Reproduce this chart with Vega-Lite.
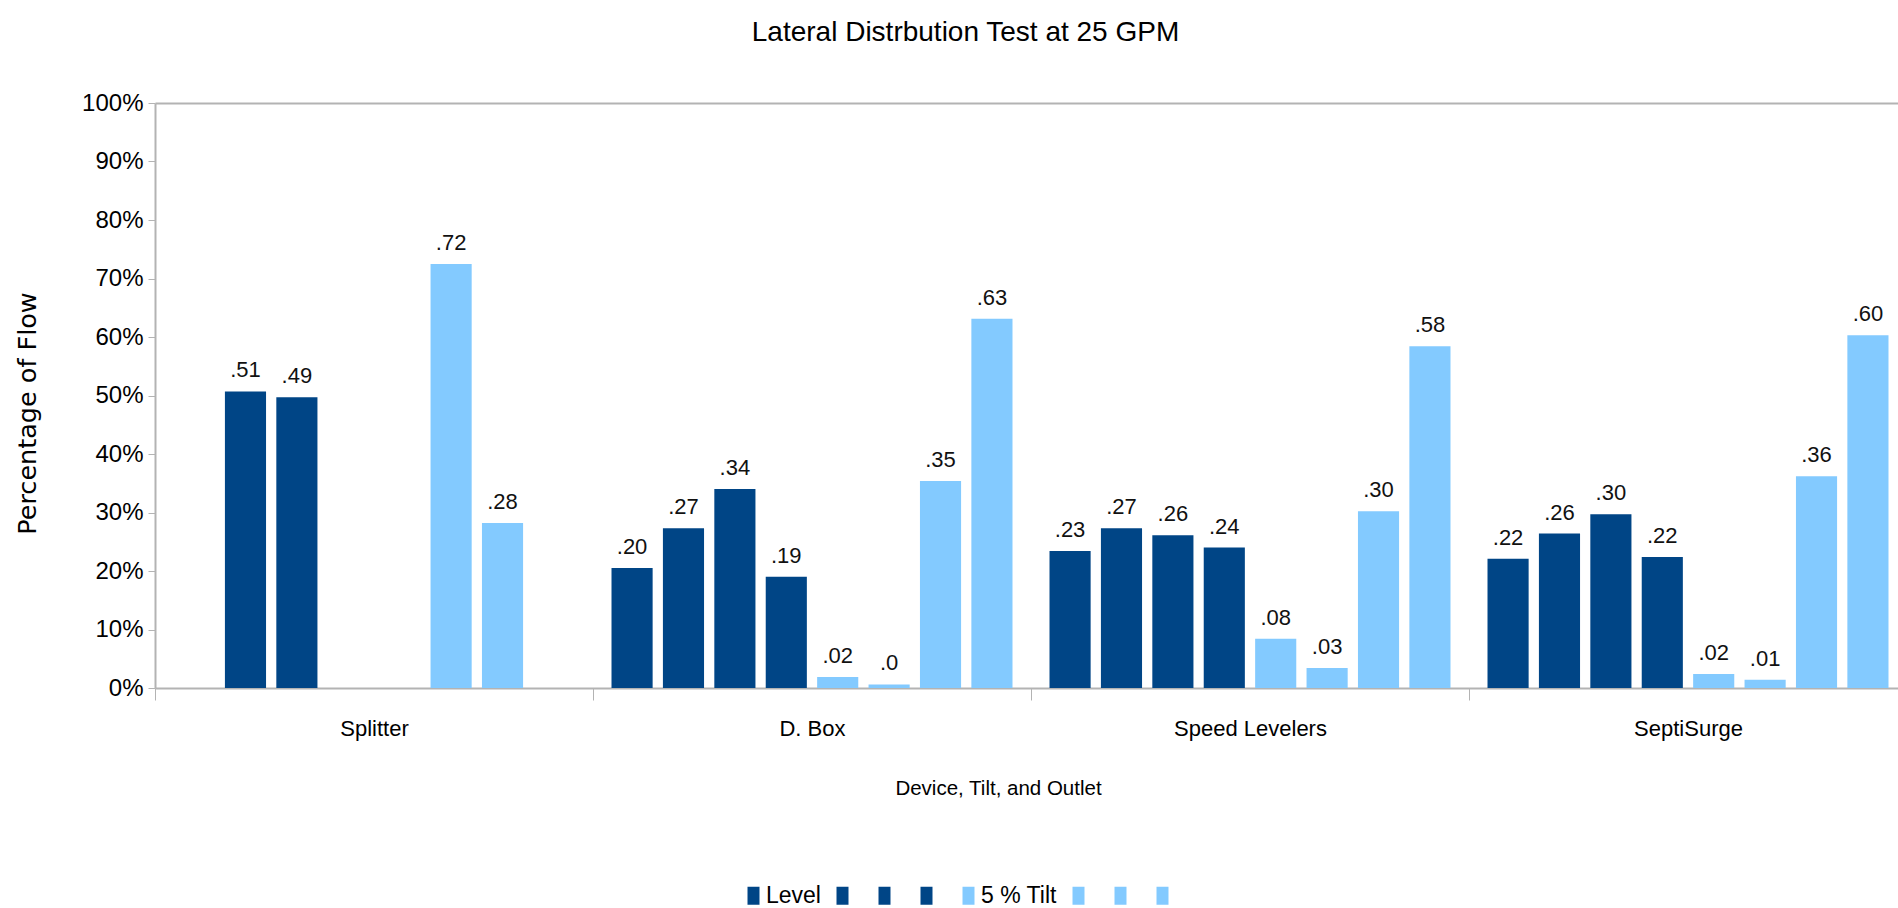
{
  "$schema": "https://vega.github.io/schema/vega-lite/v6.json",
  "width": 1743,
  "height": 585,
  "autosize": {"type": "none"},
  "padding": {"left": 155, "top": 103, "right": 0, "bottom": 220},
  "title": {
    "text": "Lateral Distrbution Test at 25 GPM",
    "font": "Liberation Sans",
    "fontSize": 28,
    "fontWeight": "normal",
    "color": "#000000",
    "anchor": "middle",
    "dx": -61,
    "offset": 44
  },
  "data": {
    "values": [
      {"device": "Splitter", "series": "L2", "value": 0.507, "label": ".51"},
      {"device": "Splitter", "series": "L3", "value": 0.497, "label": ".49"},
      {"device": "Splitter", "series": "T2", "value": 0.725, "label": ".72"},
      {"device": "Splitter", "series": "T3", "value": 0.282, "label": ".28"},
      {"device": "D. Box", "series": "L1", "value": 0.205, "label": ".20"},
      {"device": "D. Box", "series": "L2", "value": 0.273, "label": ".27"},
      {"device": "D. Box", "series": "L3", "value": 0.34, "label": ".34"},
      {"device": "D. Box", "series": "L4", "value": 0.19, "label": ".19"},
      {"device": "D. Box", "series": "T1", "value": 0.019, "label": ".02"},
      {"device": "D. Box", "series": "T2", "value": 0.006, "label": ".0"},
      {"device": "D. Box", "series": "T3", "value": 0.354, "label": ".35"},
      {"device": "D. Box", "series": "T4", "value": 0.631, "label": ".63"},
      {"device": "Speed Levelers", "series": "L1", "value": 0.234, "label": ".23"},
      {"device": "Speed Levelers", "series": "L2", "value": 0.273, "label": ".27"},
      {"device": "Speed Levelers", "series": "L3", "value": 0.261, "label": ".26"},
      {"device": "Speed Levelers", "series": "L4", "value": 0.24, "label": ".24"},
      {"device": "Speed Levelers", "series": "T1", "value": 0.084, "label": ".08"},
      {"device": "Speed Levelers", "series": "T2", "value": 0.034, "label": ".03"},
      {"device": "Speed Levelers", "series": "T3", "value": 0.302, "label": ".30"},
      {"device": "Speed Levelers", "series": "T4", "value": 0.584, "label": ".58"},
      {"device": "SeptiSurge", "series": "L1", "value": 0.221, "label": ".22"},
      {"device": "SeptiSurge", "series": "L2", "value": 0.264, "label": ".26"},
      {"device": "SeptiSurge", "series": "L3", "value": 0.297, "label": ".30"},
      {"device": "SeptiSurge", "series": "L4", "value": 0.224, "label": ".22"},
      {"device": "SeptiSurge", "series": "T1", "value": 0.024, "label": ".02"},
      {"device": "SeptiSurge", "series": "T2", "value": 0.014, "label": ".01"},
      {"device": "SeptiSurge", "series": "T3", "value": 0.362, "label": ".36"},
      {"device": "SeptiSurge", "series": "T4", "value": 0.603, "label": ".60"}
    ]
  },
  "encoding": {
    "x": {
      "field": "device",
      "type": "nominal",
      "sort": ["Splitter", "D. Box", "Speed Levelers", "SeptiSurge"],
      "scale": {"paddingInner": 0, "paddingOuter": 0, "range": [0, 1752]},
      "axis": {
        "title": "Device, Tilt, and Outlet",
        "titleFont": "Liberation Sans",
        "titleFontSize": 20.5,
        "titleFontWeight": "normal",
        "titleColor": "#000000",
        "titleX": 843,
        "titleY": 100,
        "titleAlign": "center",
        "titleBaseline": "middle",
        "labelAngle": 0,
        "labelFont": "Liberation Sans",
        "labelFontSize": 22,
        "labelColor": "#000000",
        "labelPadding": 18,
        "tickBand": "extent",
        "tickSize": 12,
        "tickColor": "#b3b3b3",
        "domainColor": "#b3b3b3",
        "domainWidth": 2
      }
    },
    "xOffset": {
      "field": "series",
      "scale": {
        "domain": ["L1", "L2", "L3", "L4", "T1", "T2", "T3", "T4"],
        "paddingInner": 0.2,
        "paddingOuter": 0.36
      }
    },
    "y": {
      "field": "value",
      "type": "quantitative",
      "scale": {"domain": [0, 1], "nice": false},
      "axis": {
        "title": "Percentage of Flow",
        "titleFont": "DejaVu Sans",
        "titleFontSize": 25.5,
        "titleFontWeight": "normal",
        "titleColor": "#000000",
        "titleX": -128,
        "titleY": 310,
        "titleAlign": "center",
        "titleBaseline": "middle",
        "format": ".0%",
        "values": [0, 0.1, 0.2, 0.3, 0.4, 0.5, 0.6, 0.7, 0.8, 0.9, 1],
        "labelFont": "Liberation Sans",
        "labelFontSize": 24,
        "labelColor": "#000000",
        "labelPadding": 5,
        "tickSize": 7,
        "tickColor": "#b3b3b3",
        "domainColor": "#b3b3b3",
        "domainWidth": 2,
        "grid": true,
        "gridColor": "#b3b3b3",
        "gridWidth": 2,
        "gridOpacity": {"condition": {"test": "datum.value === 1", "value": 1}, "value": 0}
      }
    }
  },
  "layer": [
    {
      "mark": {"type": "bar"},
      "encoding": {
        "color": {
          "field": "series",
          "type": "nominal",
          "scale": {
            "domain": ["L1", "L2", "L3", "L4", "T1", "T2", "T3", "T4"],
            "range": ["#004586", "#004586", "#004586", "#004586", "#83caff", "#83caff", "#83caff", "#83caff"]
          },
          "legend": {
            "title": null,
            "orient": "none",
            "legendX": 587,
            "legendY": 781,
            "direction": "horizontal",
            "symbolType": "M-0.6,-0.9H0.6V0.9H-0.6Z",
            "symbolSize": 400,
            "symbolStrokeWidth": 0,
            "symbolOpacity": 1,
            "labelFont": "Liberation Sans",
            "labelFontSize": 23,
            "labelColor": "#000000",
            "labelOpacity": {"expr": "datum.value === 'L1' || datum.value === 'T1' ? 1 : 0"},
            "labelOffset": 1,
            "columnPadding": 10,
            "labelExpr": "datum.label === 'L1' ? 'Level' : datum.label === 'T1' ? '5 % Tilt' : 'r'"
          }
        }
      }
    },
    {
      "mark": {
        "type": "text",
        "align": "center",
        "baseline": "alphabetic",
        "dy": -14,
        "font": "Liberation Sans",
        "fontSize": 22,
        "color": "#111111"
      },
      "encoding": {
        "text": {"field": "label", "type": "nominal"}
      }
    }
  ],
  "config": {
    "view": {"stroke": null},
    "font": "Liberation Sans"
  }
}
